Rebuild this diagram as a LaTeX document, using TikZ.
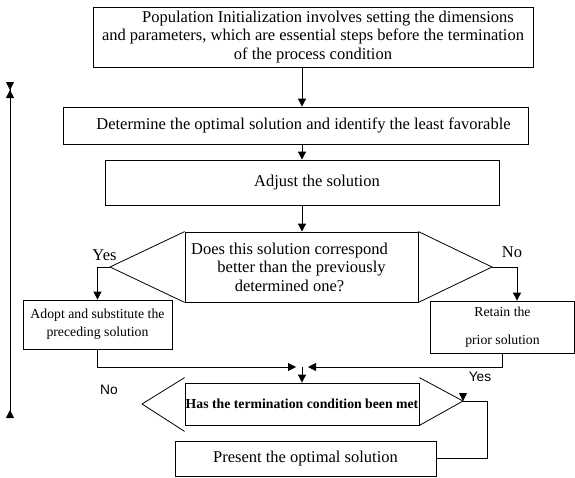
\documentclass[tikz,border=0pt]{standalone}
\usepackage{fontspec}
\setmainfont{Liberation Serif}
\newfontfamily\sansf{Liberation Sans}
\usetikzlibrary{arrows.meta}

\begin{document}
\begin{tikzpicture}[
x=1pt, y=-1pt,
line width=0.8pt,
font=\fontsize{16.5}{18.5}\selectfont
]

\tikzstyle{b} = [draw, shape=rectangle, inner sep=0pt, align=center]
\tikzstyle{sm} = [font=\fontsize{13.75}{18}\selectfont]
\tikzstyle{sf} = [font=\sansf\fontsize{13.75}{16}\selectfont]
\tikzstyle{a} = [-{Triangle[length=8pt,width=8pt]}]

\useasboundingbox (0,0) rectangle (575,477);

\node[b, minimum width=440pt, minimum height=60pt] (init) at (313,37)
	{\hspace*{30pt}Population Initialization involves setting the dimensions\\
	and parameters, which are essential steps before the termination\\
	of the process condition};
\node[b, minimum width=465pt, minimum height=37pt] (best) at (295.5,125.5)
	{\hspace*{16pt}Determine the optimal solution and identify the least favorable};
\node[b, minimum width=394pt, minimum height=45pt] (adj) at (302,182.5)
	{\hspace*{30pt}Adjust the solution};

\node[b, minimum width=233pt, minimum height=70pt] (cmp) at (301.5,267)
	{Does this solution correspond\hspace*{24pt}\\ better than the previously\hspace*{24pt}\\ determined one?\hspace*{24pt}};
\coordinate (cmpL) at (110,267);
\coordinate (cmpR) at (492,267);
\draw (cmp.north west) -- (cmpL) -- (cmp.south west);
\draw (cmp.north east) -- (cmpR) -- (cmp.south east);

\node[b, sm, minimum width=149pt, minimum height=49pt] (adopt) at (97.5,324.5)
	{Adopt and substitute the\\ preceding solution};
\node[b, minimum width=144pt, minimum height=52pt, font=\fontsize{13.75}{28}\selectfont] (keep) at (502.5,327)
	{Retain the\\ prior solution};

\node[b, minimum width=234pt, minimum height=42pt, font=\bfseries\fontsize{13.75}{16}\selectfont] (stop) at (302,404)
	{Has the termination condition been met};
\coordinate (stopL) at (142,404);
\coordinate (stopR) at (463,401);
\draw ([yshift=5pt]stop.north west) -- (stopL) -- ([yshift=-6pt]stop.south west);
\draw ([yshift=5pt]stop.north east) -- (stopR) -- (stop.south east);

\node[b, minimum width=261pt, minimum height=35pt] (out) at (305.5,458.5)
	{Present the optimal solution};

\node (y1) at (104.5,255) {Yes};
\node (n1) at (512,252.5) {No};
\node[sf] (n2) at (109,390) {No};
\node[sf] (y2) at (480,376.5) {Yes};

\coordinate (j) at (302,367);
\coordinate (back) at (487,401);
\coordinate (lb) at (10,418);
\coordinate (lt) at (10,82);

\draw[a] (init.south -| adj) -- (best.north -| adj);
\draw[a] (best.south -| adj) -- (adj.north);
\draw[a] (adj.south) -- (adj.south |- cmp.north);
\draw[a] (cmpL) -| (adopt.north);
\draw[a] (cmpR) -| ([xshift=14.5pt]keep.north);
\draw[a] (adopt.south) |- ([xshift=-6pt]j);
\draw[a] (keep.south) |- ([xshift=6pt]j);
\draw[a] (j) -- (stop.north);
\draw (out.east) -| (back) -- (stopR);
\draw[a] ([yshift=7pt]stopR) -- (stopR);
\draw[{Triangle[reversed,length=8pt,width=8pt]}-{Triangle[length=8pt,width=8pt] Triangle[reversed,length=8pt,width=8pt]}] (lb) -- (lt);

\end{tikzpicture}
\end{document}
